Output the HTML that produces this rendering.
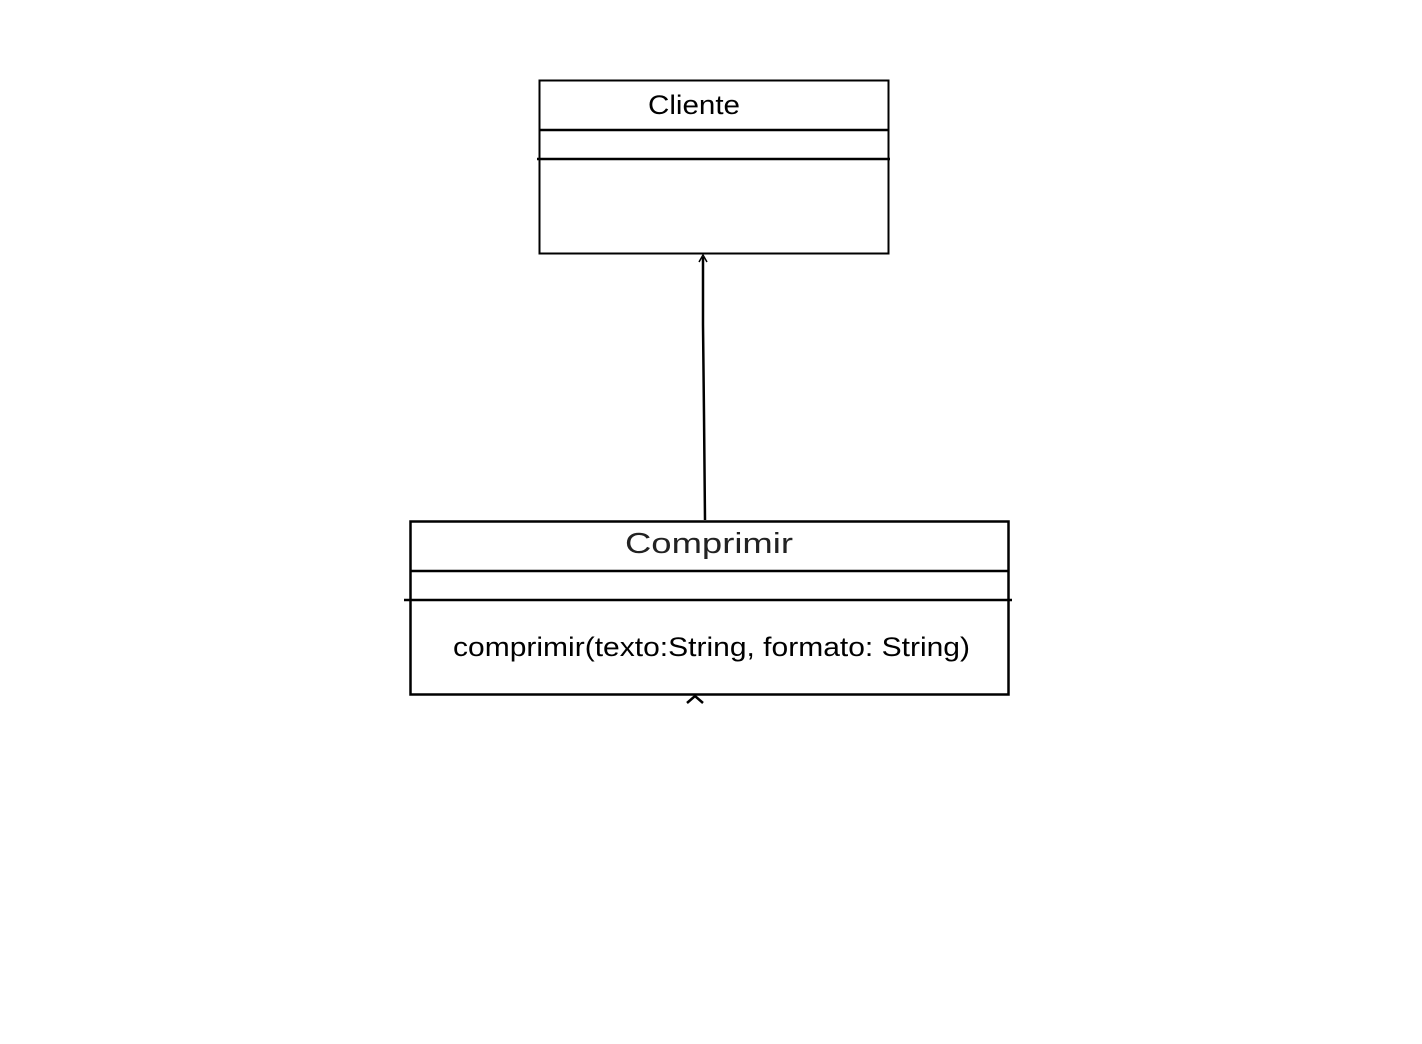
<!DOCTYPE html>
<html><head><meta charset="utf-8"><style>html,body{margin:0;padding:0;background:#fff}svg{display:block}</style></head>
<body>
<svg width="1422" height="1044" viewBox="0 0 1422 1044" xmlns="http://www.w3.org/2000/svg" font-family="Liberation Sans, sans-serif">
<rect x="0" y="0" width="1422" height="1044" fill="#fff"/>
<!-- Cliente -->
<rect x="539.5" y="80.5" width="349" height="173" fill="none" stroke="#000" stroke-width="2"/>
<line x1="539" y1="130" x2="889" y2="130" stroke="#000" stroke-width="2.5"/>
<line x1="537" y1="159" x2="890" y2="159" stroke="#000" stroke-width="2.5"/>
<text x="694" y="114" font-size="27" text-anchor="middle" fill="#000" textLength="92" lengthAdjust="spacingAndGlyphs">Cliente</text>
<!-- connector -->
<polyline points="705,520 704,415 703,325 703,257" fill="none" stroke="#000" stroke-width="2.5"/>
<polyline points="699,262 703,255 707,262" fill="none" stroke="#000" stroke-width="1.5"/>
<!-- Comprimir -->
<rect x="410.5" y="521.5" width="598" height="173" fill="none" stroke="#000" stroke-width="2.5"/>
<line x1="410" y1="571" x2="1009" y2="571" stroke="#000" stroke-width="2.5"/>
<line x1="404" y1="600" x2="1012" y2="600" stroke="#000" stroke-width="2.5"/>
<text x="709" y="553" font-size="29" text-anchor="middle" fill="#222" textLength="168" lengthAdjust="spacingAndGlyphs">Comprimir</text>
<text x="453" y="656" font-size="27" fill="#000" textLength="517" lengthAdjust="spacingAndGlyphs">comprimir(texto:String, formato: String)</text>
<polyline points="687,703 695,696 703,703" fill="none" stroke="#000" stroke-width="2.5"/>
</svg>
</body></html>
